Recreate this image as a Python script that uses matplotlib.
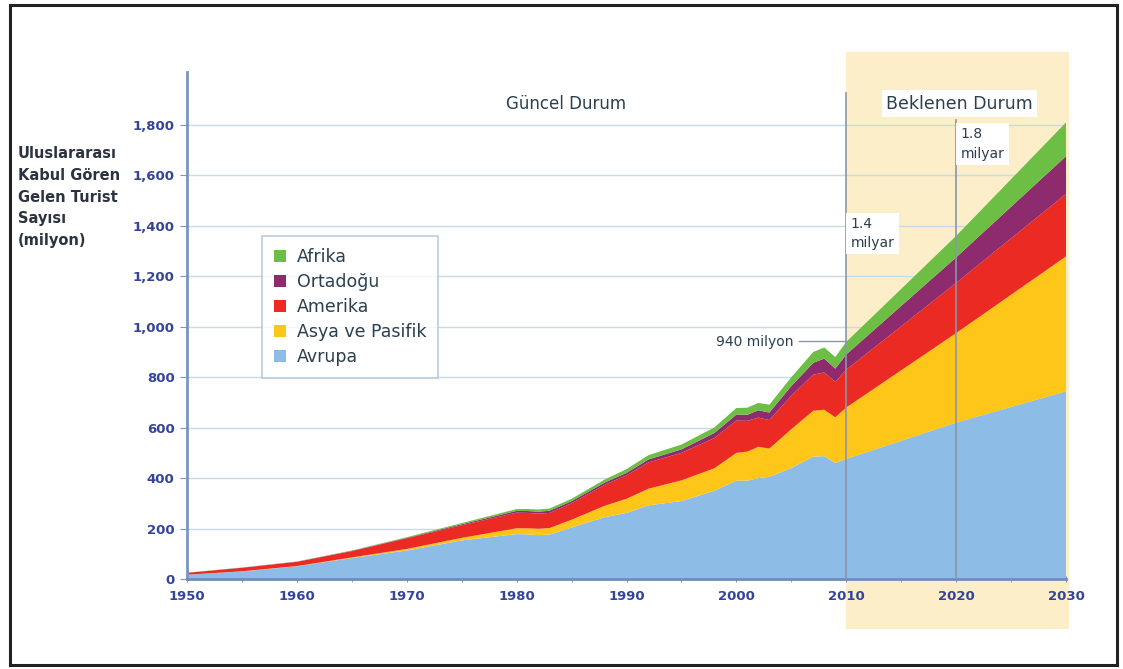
import matplotlib
matplotlib.use("Agg")
import matplotlib.pyplot as plt
from matplotlib.patches import Rectangle, Patch

years = [1950, 1955, 1960, 1965, 1970, 1975, 1980, 1981, 1982, 1983, 1985, 1988,
         1990, 1992, 1995, 1998, 2000, 2001, 2002, 2003, 2005, 2007, 2008, 2009,
         2010, 2020, 2030]
avrupa = [16.8, 30, 50.4, 83, 113, 153, 178, 177, 174, 176, 204, 245,
          262, 292, 309, 350, 390, 390, 400, 405, 440, 485, 487, 460,
          476, 620, 744]
asya = [0.2, 0.5, 0.9, 2.5, 6.2, 10, 23, 24, 25, 26, 31, 45,
        56, 66, 82, 89, 110, 115, 124, 112, 154, 182, 184, 181,
        204, 355, 535]
amerika = [7.5, 14, 16.7, 25, 42.3, 50, 62, 61, 60, 60, 65, 83,
           93, 104, 109, 120, 128, 122, 116, 113, 133, 143, 148, 140,
           150, 199, 248]
ortadogu = [0.2, 0.4, 0.6, 1.2, 1.9, 4, 7.1, 7.5, 8, 8.5, 8.5, 9,
            9.6, 12, 14, 20, 24, 24, 29, 30, 38, 47, 55, 53,
            60, 101, 149]
afrika = [0.5, 0.6, 0.8, 1.3, 2.4, 4.7, 7.2, 8, 8.5, 9, 9.5, 12,
          15, 17, 19, 22, 26, 28, 29, 31, 35, 43, 44, 46,
          50, 85, 134]

series = [("Avrupa", avrupa, "#8DBDE6"),
          ("Asya ve Pasifik", asya, "#FFC61A"),
          ("Amerika", amerika, "#EC2A24"),
          ("Ortadoğu", ortadogu, "#8E2B6E"),
          ("Afrika", afrika, "#6DBE45")]

yticks = [0, 200, 400, 600, 800, 1000, 1200, 1400, 1600, 1800]
ytick_labels = ["0", "200", "400", "600", "800", "1,000", "1,200", "1,400", "1,600", "1,800"]
xticks = [1950, 1960, 1970, 1980, 1990, 2000, 2010, 2020, 2030]

fig = plt.figure(figsize=(11.23, 6.69), dpi=100)
ax = fig.add_axes([187/1123, 1-579/669, (1066-187)/1123, (579-72)/669])
ax.set_xlim(1950, 2030)
ax.set_ylim(0, 2010)

# outer frame
fig.patches.append(Rectangle((10/1123, 1-665/669), 1107/1123, 660/669,
                             transform=fig.transFigure, fill=False,
                             edgecolor="#222222", linewidth=2.2))

# shaded projection region
ax.add_patch(Rectangle((2010, -200), 20.3, 2290, facecolor="#FCEBC0",
                       edgecolor="none", clip_on=False, zorder=0, alpha=0.85))

ax.stackplot(years, *[s[1] for s in series], colors=[s[2] for s in series],
             zorder=2, linewidth=0)

ax.set_yticks(yticks)
ax.set_yticklabels(ytick_labels)
ax.set_xticks(xticks)
ax.set_xticks(range(1955, 2030, 10), minor=True)
for lab in ax.get_yticklabels() + ax.get_xticklabels():
    lab.set_fontweight("bold")
    lab.set_color("#34449A")
    lab.set_fontsize(9.5)
ax.tick_params(axis="y", length=5, color="#7A95C0", pad=4)
ax.tick_params(axis="x", which="both", length=4, color="#7A95C0", direction="inout", pad=6)
ax.grid(axis="y", color="#C9D9E6", linewidth=1.0, zorder=1)
ax.set_axisbelow(True)
for sp in ["top", "right"]:
    ax.spines[sp].set_visible(False)
ax.spines["left"].set_color("#7A95C0")
ax.spines["left"].set_linewidth(2)
ax.spines["bottom"].set_color("#6F8CC0")
ax.spines["bottom"].set_linewidth(2)
ax.set_facecolor("none")

# vertical markers
ax.plot([2010, 2010], [0, 1925], color="#8A96A8", linewidth=1.2, zorder=3)
ax.plot([2020, 2020], [0, 1820], color="#8A96A8", linewidth=1.2, zorder=3)

txtc = "#2B3F4F"
ax.text(1984.5, 1885, "Güncel Durum", fontsize=12, color=txtc, ha="center", va="center")
ax.text(2020.3, 1885, "Beklenen Durum", fontsize=12.5, color=txtc, ha="center", va="center",
        bbox=dict(facecolor="white", edgecolor="none", pad=3), zorder=5)
ax.text(2010.4, 1370, "1.4\nmilyar", fontsize=10, color=txtc, ha="left", va="center",
        linespacing=1.5, bbox=dict(facecolor="white", edgecolor="none", pad=3), zorder=5)
ax.text(2020.4, 1725, "1.8\nmilyar", fontsize=10, color=txtc, ha="left", va="center",
        linespacing=1.5, bbox=dict(facecolor="white", edgecolor="none", pad=3), zorder=5)
ax.text(2005.2, 940, "940 milyon", fontsize=10, color=txtc, ha="right", va="center", zorder=5)
ax.plot([2005.7, 2010], [945, 945], color="#8A96A8", linewidth=1.0, zorder=5)

fig.text(18/1123, 1-197/669,
         "Uluslararası\nKabul Gören\nGelen Turist\nSayısı\n(milyon)",
         fontsize=10.5, fontweight="bold", color="#2B3340", ha="left", va="center",
         linespacing=1.55)

handles = [Patch(facecolor=s[2], edgecolor="none") for s in series][::-1]
labels = [s[0] for s in series][::-1]
leg = ax.legend(handles, labels, loc="upper left",
                bbox_to_anchor=((262-187)/(1066-187), (579-236)/(579-72)),
                borderaxespad=0,
                fontsize=12.5, frameon=True, fancybox=False, handlelength=0.7,
                handleheight=0.7, handletextpad=0.6, labelspacing=0.4,
                borderpad=0.7, labelcolor=txtc)
leg.get_frame().set_edgecolor("#A9C0D8")
leg.get_frame().set_linewidth(1.2)

fig.savefig("out.png", dpi=100)
